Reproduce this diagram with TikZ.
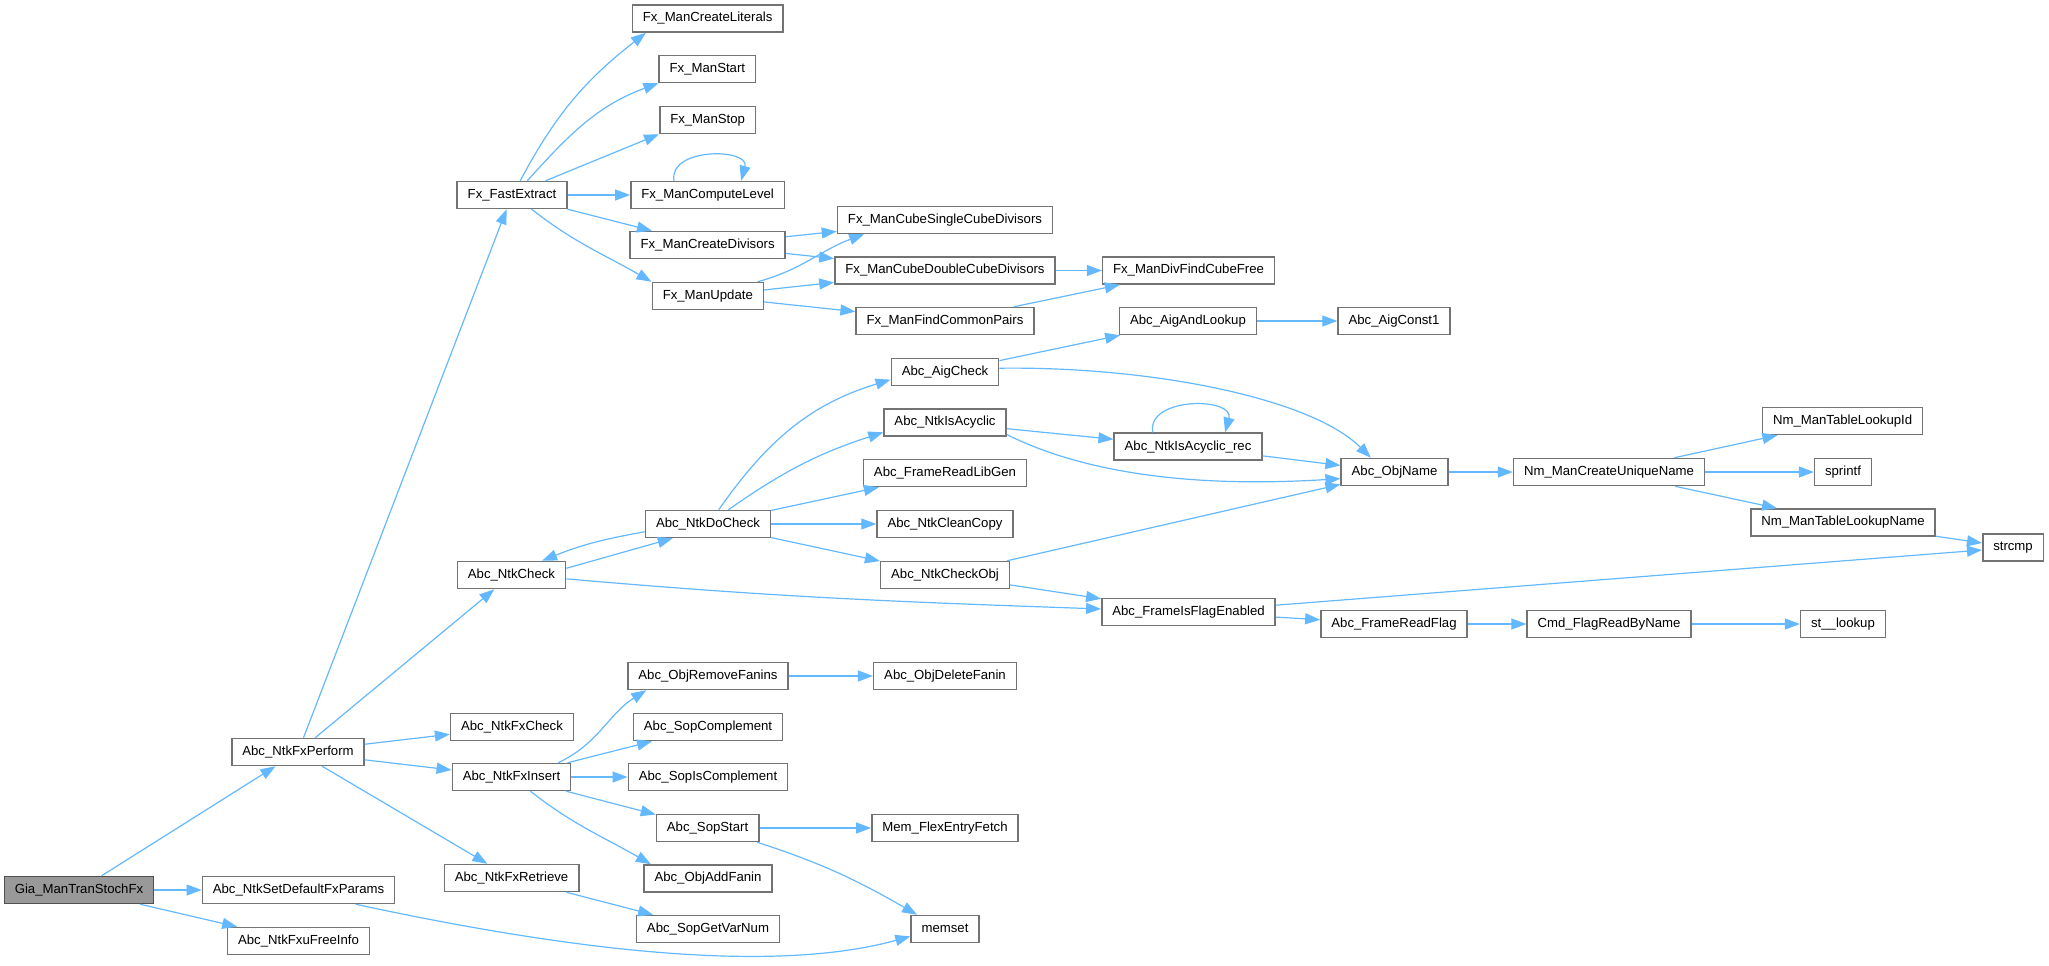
\documentclass[tikz,border=0pt]{standalone}
\usepackage{fontspec}
\setmainfont{Liberation Sans}
\usetikzlibrary{arrows.meta}
\definecolor{callblue}{HTML}{63B8FF}
\definecolor{frame}{HTML}{737373}
\definecolor{rootfill}{HTML}{999999}
\tikzset{
  fnbox/.style={rectangle, draw=frame, line width=0.85pt, fill=white, minimum height=0.54cm, inner xsep=0.21cm, inner ysep=0pt, font=\fontsize{7.5}{9}\selectfont, text height=5.4pt, text depth=1.6pt},
  rootbox/.style={fnbox, fill=rootfill, draw=frame!70!black},
  call/.style={-{Triangle[length=0.3cm,width=0.22cm]}, line width=0.68pt, draw=callblue},
}
\begin{document}
\begin{tikzpicture}[x=0.02cm,y=-0.02cm]
  \useasboundingbox (0,0) rectangle (2049,965);
  % caller
  \node[rootbox](gia) at (79,890){Gia\_ManTranStochFx};
  % first level
  \node[fnbox](perf) at (298,752){Abc\_NtkFxPerform};
  \node[fnbox](sdp) at (298.5,890){Abc\_NtkSetDefaultFxParams};
  \node[fnbox](fxu) at (298.5,941){Abc\_NtkFxuFreeInfo};
  % second level
  \node[fnbox](fe) at (512,195){Fx\_FastExtract};
  \node[fnbox](ntkchk) at (511.5,575){Abc\_NtkCheck};
  \node[fnbox](fxchk) at (512,727){Abc\_NtkFxCheck};
  \node[fnbox](fxins) at (511.5,777){Abc\_NtkFxInsert};
  \node[fnbox](fxret) at (511.5,878){Abc\_NtkFxRetrieve};
  % third level
  \node[fnbox](lit) at (707.6,18.5){Fx\_ManCreateLiterals};
  \node[fnbox](mstart) at (707.4,69){Fx\_ManStart};
  \node[fnbox](mstop) at (707.6,120){Fx\_ManStop};
  \node[fnbox](clev) at (707.6,195){Fx\_ManComputeLevel};
  \node[fnbox](cdiv) at (707.6,245){Fx\_ManCreateDivisors};
  \node[fnbox](mupd) at (707.8,296){Fx\_ManUpdate};
  \node[fnbox](docheck) at (708,524){Abc\_NtkDoCheck};
  \node[fnbox](rmfan) at (708,676){Abc\_ObjRemoveFanins};
  \node[fnbox](sopc) at (708,727){Abc\_SopComplement};
  \node[fnbox](sopic) at (708,777){Abc\_SopIsComplement};
  \node[fnbox](sopst) at (707.6,828){Abc\_SopStart};
  \node[fnbox](addfan) at (708,878.5){Abc\_ObjAddFanin};
  \node[fnbox](vnum) at (708,929){Abc\_SopGetVarNum};
  % fourth level
  \node[fnbox](single) at (945,220){Fx\_ManCubeSingleCubeDivisors};
  \node[fnbox](double) at (945,270.5){Fx\_ManCubeDoubleCubeDivisors};
  \node[fnbox](common) at (945,321){Fx\_ManFindCommonPairs};
  \node[fnbox](aigchk) at (945,372){Abc\_AigCheck};
  \node[fnbox](acyc) at (945,422.5){Abc\_NtkIsAcyclic};
  \node[fnbox](libgen) at (945,473){Abc\_FrameReadLibGen};
  \node[fnbox](clean) at (945,524){Abc\_NtkCleanCopy};
  \node[fnbox](chkobj) at (945,575){Abc\_NtkCheckObj};
  \node[fnbox](delfan) at (945,676){Abc\_ObjDeleteFanin};
  \node[fnbox](mem) at (945,828){Mem\_FlexEntryFetch};
  \node[fnbox](memset) at (945,929){memset};
  % fifth level
  \node[fnbox](cubefree) at (1188.5,270.5){Fx\_ManDivFindCubeFree};
  \node[fnbox](andlook) at (1188,321){Abc\_AigAndLookup};
  \node[fnbox](acycrec) at (1188,446.7){Abc\_NtkIsAcyclic\_rec};
  \node[fnbox](flagen) at (1188.5,612){Abc\_FrameIsFlagEnabled};
  % sixth level
  \node[fnbox](const1) at (1394,321){Abc\_AigConst1};
  \node[fnbox](objname) at (1394.5,472){Abc\_ObjName};
  \node[fnbox](readflag) at (1394,624){Abc\_FrameReadFlag};
  % seventh level
  \node[fnbox](uniq) at (1609,472){Nm\_ManCreateUniqueName};
  \node[fnbox](cmdflag) at (1609,624){Cmd\_FlagReadByName};
  % eighth level
  \node[fnbox](lookid) at (1842.6,421){Nm\_ManTableLookupId};
  \node[fnbox](sprintf) at (1843,472){sprintf};
  \node[fnbox](lookname) at (1843,522.5){Nm\_ManTableLookupName};
  \node[fnbox](stlookup) at (1843,624){st\_\_lookup};
  \node[fnbox](strcmp) at (2013,547.6){strcmp};

  % calls from the root
  \draw[call] (gia) -- (perf);
  \draw[call] (gia) -- (sdp);
  \draw[call] (gia) -- (fxu);
  \draw[call] (perf) -- (fe);
  \draw[call] (perf) -- (ntkchk);
  \draw[call] (perf) -- (fxchk);
  \draw[call] (perf) -- (fxins);
  \draw[call] (perf) -- (fxret);
  \draw[call] (sdp.-14) .. controls +(186,40) and +(-149,41) .. (memset.192);
  % fast extract
  \draw[call] (fe.60) to[out=62,in=218] (lit.193);
  \draw[call] (fe.43) to[out=48,in=200] (mstart.south west);
  \draw[call] (fe.23) -- (mstop.south west);
  \draw[call] (fe) -- (clev);
  \draw[call] (fe) -- (cdiv);
  \draw[call] (fe.-36) to[out=-38,in=150] (mupd.north west);
  \draw[call] (clev.157) to[out=100,in=75,looseness=1.3] (clev.23);
  \draw[call] (cdiv) -- (single);
  \draw[call] (cdiv) -- (double);
  \draw[call] (mupd.16) to[out=15,in=200] (single.190);
  \draw[call] (mupd) -- (double);
  \draw[call] (mupd) -- (common);
  \draw[call] (double) -- (cubefree);
  \draw[call] (common) -- (cubefree);
  % network check
  \draw[call] (docheck.187) to[out=190,in=22] (ntkchk.25);
  \draw[call] (ntkchk.7) -- (docheck.202);
  \draw[call] (ntkchk.-4) to[out=-5,in=178] (flagen.178);
  \draw[call] (docheck.53) to[out=55,in=197] (aigchk.188);
  \draw[call] (docheck.35) to[out=35,in=198] (acyc.189);
  \draw[call] (docheck) -- (libgen);
  \draw[call] (docheck) -- (clean);
  \draw[call] (docheck) -- (chkobj);
  \draw[call] (aigchk) -- (andlook);
  \draw[call] (aigchk.4) .. controls +(150,-2) and +(-60,-60) .. (objname.149);
  \draw[call] (andlook) -- (const1);
  \draw[call] (acyc) -- (acycrec);
  \draw[call] (acyc.-11) .. controls +(70,35) and +(-160,10) .. (objname.187);
  \draw[call] (acycrec.158) to[out=100,in=75,looseness=1.3] (acycrec.21);
  \draw[call] (acycrec) -- (objname);
  \draw[call] (chkobj) -- (objname);
  \draw[call] (chkobj) -- (flagen);
  \draw[call] (objname) -- (uniq);
  \draw[call] (uniq) -- (lookid);
  \draw[call] (uniq) -- (sprintf);
  \draw[call] (uniq) -- (lookname);
  \draw[call] (lookname) -- (strcmp);
  \draw[call] (flagen) -- (strcmp);
  \draw[call] (flagen) -- (readflag);
  \draw[call] (readflag) -- (cmdflag);
  \draw[call] (cmdflag) -- (stlookup);
  % insert and retrieve
  \draw[call] (fxins.17) to[out=25,in=212] (rmfan.193);
  \draw[call] (fxins) -- (sopc);
  \draw[call] (fxins) -- (sopic);
  \draw[call] (fxins) -- (sopst);
  \draw[call] (fxins.-37) to[out=-38,in=150] (addfan.166);
  \draw[call] (rmfan) -- (delfan);
  \draw[call] (sopst) -- (mem);
  \draw[call] (sopst.-16) to[out=-18,in=150] (memset.153);
  \draw[call] (fxret) -- (vnum);
\end{tikzpicture}
\end{document}
